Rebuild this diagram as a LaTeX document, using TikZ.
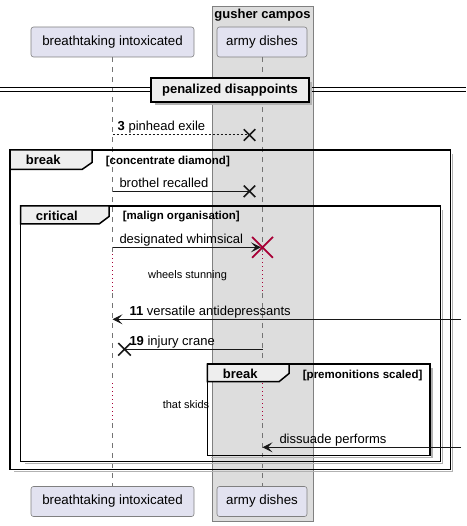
\documentclass[tikz,border=0pt]{standalone}
\usepackage{fontspec}
\setmainfont{Liberation Sans}
\usetikzlibrary{arrows.meta,shapes.misc}
\definecolor{partfill}{HTML}{E2E2F0}
\definecolor{lnc}{HTML}{181818}
\definecolor{boxfill}{HTML}{DDDDDD}
\definecolor{tabfill}{HTML}{EEEEEE}
\definecolor{crim}{HTML}{A80036}
\begin{document}
\begin{tikzpicture}[x=1pt,y=-1pt,
  part/.style={draw=lnc!55, line width=0.6pt, fill=partfill, rounded corners=2.5pt, inner sep=0pt, minimum height=30pt, font=\fontsize{13.3}{15}\selectfont},
  life/.style={draw=lnc!60, line width=0.6pt, dash pattern=on 5pt off 5pt},
  delayline/.style={draw=crim, line width=1pt, dash pattern=on 1pt off 3pt},
  msg/.style={draw=lnc, line width=1pt},
  tipped/.style={msg, -{Stealth[length=10pt,width=10pt,inset=4.5pt]}},
  lbl/.style={inner sep=0pt, anchor=base west, font=\fontsize{13}{15}\selectfont},
  blbl/.style={inner sep=0pt, anchor=base west, font=\fontsize{13}{15}\selectfont\bfseries},
  slbl/.style={inner sep=0pt, anchor=base west, font=\fontsize{11.5}{13}\selectfont\bfseries},
  dlbl/.style={inner sep=0pt, font=\fontsize{11}{13}\selectfont},
  frm/.style={draw=black, line width=1.5pt},
  shd/.style={draw=black!30, line width=1.5pt},
  tab/.style={draw=black, line width=1.5pt, fill=tabfill, line join=miter},
  xmark/.style={draw=lnc, cross out, line width=1.5pt, inner sep=0pt, minimum size=10pt},
]
\useasboundingbox (0,0) rectangle (466,526);

% box
\node[draw=lnc!55, fill=boxfill, line width=0.6pt, minimum width=101pt, minimum height=515pt, inner sep=0pt, anchor=north west] (gc) at (212,6) {};
\node[inner sep=0pt, font=\fontsize{13}{15}\selectfont\bfseries] (gct) at (262.5,15.5) {gusher campos};

% participants
\node[part, minimum width=163pt] (bi) at (112.5,42) {breathtaking intoxicated};
\node[part, minimum width=90pt] (ad) at (262,42) {army dishes};
\node[part, minimum width=163pt] (bib) at (112.5,501.5) {breathtaking intoxicated};
\node[part, minimum width=90pt] (adb) at (262,501.5) {army dishes};

% lifelines
\coordinate (a1) at (112.5,254); \coordinate (a2) at (112.5,293);
\coordinate (a3) at (112.5,383); \coordinate (a4) at (112.5,423);
\coordinate (b1) at (262.5,254); \coordinate (b2) at (262.5,293);
\coordinate (b3) at (262.5,383); \coordinate (b4) at (262.5,423);
\draw[life] (112.5,57) -- (a1);
\draw[delayline] (a1) -- (a2);
\draw[life] (a2) -- (a3);
\draw[delayline] (a3) -- (a4);
\draw[life] (a4) -- (112.5,486);
\draw[life] (262.5,57) -- (b1);
\draw[delayline] (b1) -- (b2);
\draw[life] (b2) -- (b3);
\draw[delayline] (b3) -- (b4);
\draw[life] (b4) -- (262.5,486);

% divider
\coordinate (dl1) at (0,87.5); \coordinate (dr1) at (466,87.5);
\coordinate (dl2) at (0,91.5); \coordinate (dr2) at (466,91.5);
\draw[black, line width=1pt] (dl1) -- (dr1);
\draw[black, line width=1pt] (dl2) -- (dr2);
\draw[shd] (311,82) -- (311,104) -- (155,104);
\node[draw=black, line width=1.5pt, fill=tabfill, minimum width=158pt, minimum height=24pt, inner sep=0pt, font=\fontsize{13}{15}\selectfont\bfseries] (dv) at (230,90) {penalized disappoints};

% outer break frame
\draw[shd] (452.7,154) -- (452.7,471.3) -- (14,471.3);
\draw[frm] (10,150) rectangle (450.7,469.3);
\draw[tab] (10,150) -- (92,150) -- (92,162.5) -- (82,169.5) -- (10,169.5) -- cycle;
\node[blbl] (f1) at (25.7,164.7) {break};
\node[slbl] (f1g) at (105.7,164.3) {[concentrate diamond]};

% critical frame
\draw[shd] (442.7,210) -- (442.7,463.7) -- (24.7,463.7);
\draw[frm] (20.7,206) rectangle (440.7,461.7);
\draw[tab] (20.7,206) -- (109,206) -- (109,216.5) -- (99,224) -- (20.7,224) -- cycle;
\node[blbl] (f2) at (35.7,221) {critical};
\node[slbl] (f2g) at (122.7,220) {[malign organisation]};

% inner break frame
\draw[shd] (432,368) -- (432,457.7) -- (211.3,457.7);
\draw[frm] (207.3,364) rectangle (430,455.7);
\draw[tab] (207.3,364) -- (289,364) -- (289,373.5) -- (279,381.7) -- (207.3,381.7) -- cycle;
\node[blbl] (f3) at (222.7,378.3) {break};
\node[slbl] (f3g) at (302.7,378.3) {[premonitions scaled]};

% message 3
\coordinate (m3s) at (112.5,135);
\node[xmark] (x3) at (249.5,135) {};
\draw[msg, dash pattern=on 2pt off 2pt] (m3s) -- (x3.center);
\node[lbl] (t3) at (117.5,131) {\textbf{3} pinhead exile};

% brothel recalled
\coordinate (m4s) at (112.5,191.3);
\node[xmark] (x4) at (249.5,191.3) {};
\draw[msg] (m4s) -- (x4.center);
\node[lbl] (t4) at (119.3,187.3) {brothel recalled};

% designated whimsical
\coordinate (m5s) at (112.5,247.3);
\coordinate (m5e) at (261,247.3);
\draw[tipped] (m5s) -- (m5e);
\node[draw=crim, cross out, line width=1.8pt, inner sep=0pt, minimum size=19pt] (xr) at (262.5,247.3) {};
\node[lbl] (t5) at (119.3,243.3) {designated whimsical};

% delay 1
\node[dlbl] (dt1) at (187.5,276) {wheels stunning};

% 11 versatile antidepressants
\coordinate (m6s) at (461,319.3);
\coordinate (m6e) at (112.5,319.3);
\draw[tipped] (m6s) -- (m6e);
\node[lbl] (t6) at (129.3,315.3) {\textbf{11} versatile antidepressants};

% 19 injury crane
\coordinate (m7s) at (262.5,349.3);
\node[xmark, minimum size=11pt] (x7) at (124.5,349.3) {};
\draw[msg] (m7s) -- (x7.center);
\node[lbl] (t7) at (129.3,345.3) {\textbf{19} injury crane};

% delay 2
\node[dlbl] (dt2) at (186,404.5) {that skids};

% dissuade performs
\coordinate (m8s) at (461,447.3);
\coordinate (m8e) at (262.5,447.3);
\draw[tipped] (m8s) -- (m8e);
\node[lbl] (t8) at (279.3,443.3) {dissuade performs};
\end{tikzpicture}
\end{document}
